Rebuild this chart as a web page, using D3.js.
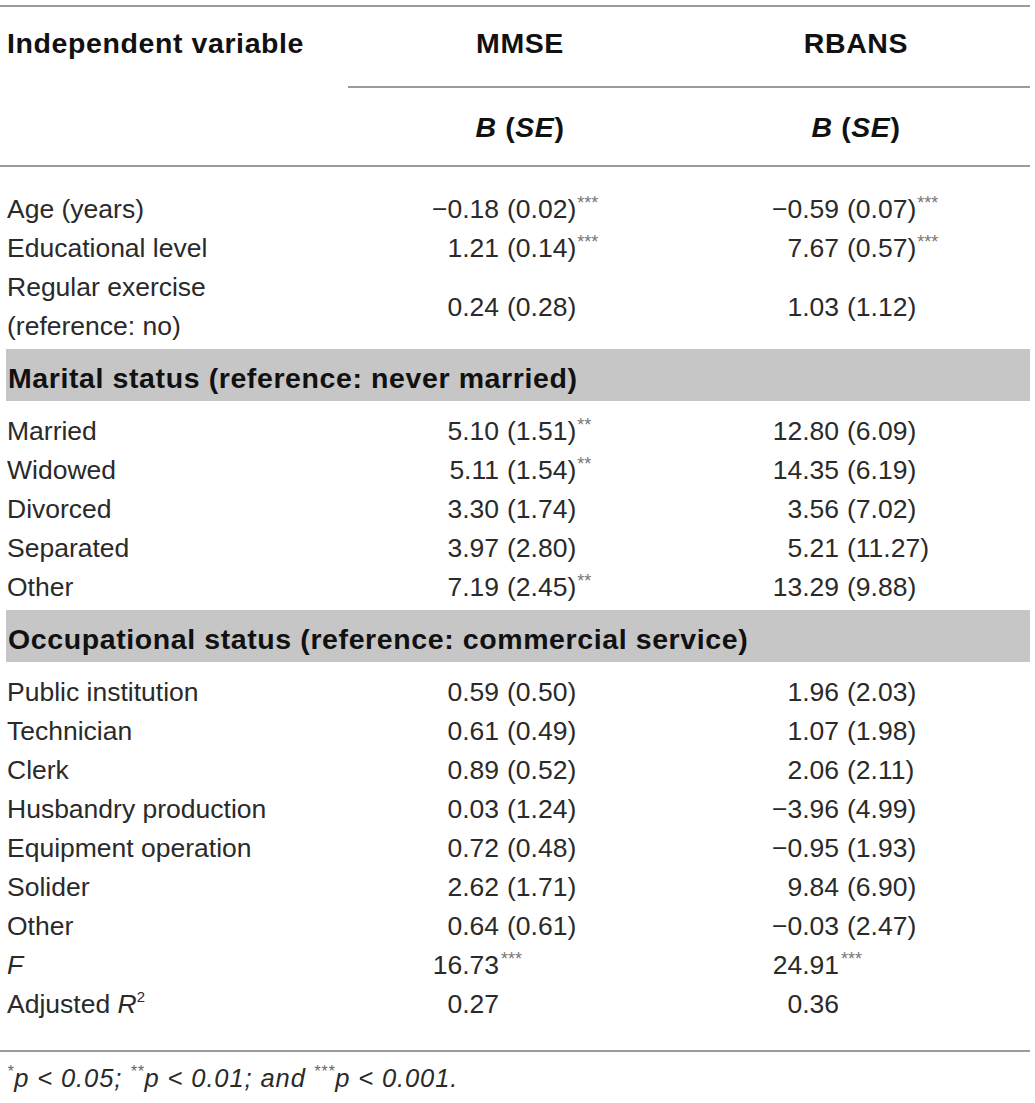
<!DOCTYPE html>
<html>
<head>
<meta charset="utf-8">
<script src="https://cdn.jsdelivr.net/npm/d3@7"></script>
<style>
  html, body { margin: 0; padding: 0; background: #fff; }
  svg { display: block; }
</style>
</head>
<body>
<div id="table"></div>
<script>
// rows of the regression table
const rowLabels = ["Age (years)", "Educational level", "Regular exercise|(reference: no)",
    "Married", "Widowed", "Divorced", "Separated", "Other",
    "Public institution", "Technician", "Clerk", "Husbandry production",
    "Equipment operation", "Solider", "Other", "F", "Adjusted R2"];
const rowGroup = [0, 0, 0, 1, 1, 1, 1, 1, 2, 2, 2, 2, 2, 2, 2, 2, 2];
const groupTitles = ["", "Marital status (reference: never married)",
    "Occupational status (reference: commercial service)"];

const columns = ["MMSE", "RBANS"];
const mmseB = [-0.18, 1.21, 0.24, 5.10, 5.11, 3.30, 3.97, 7.19, 0.59, 0.61, 0.89, 0.03, 0.72, 2.62, 0.64, 16.73, 0.27];
const mmseSE = [0.02, 0.14, 0.28, 1.51, 1.54, 1.74, 2.80, 2.45, 0.50, 0.49, 0.52, 1.24, 0.48, 1.71, 0.61, null, null];
const mmseSig = [3, 3, 0, 2, 2, 0, 0, 2, 0, 0, 0, 0, 0, 0, 0, 3, 0];
const rbansB = [-0.59, 7.67, 1.03, 12.80, 14.35, 3.56, 5.21, 13.29, 1.96, 1.07, 2.06, -3.96, -0.95, 9.84, -0.03, 24.91, 0.36];
const rbansSE = [0.07, 0.57, 1.12, 6.09, 6.19, 7.02, 11.27, 9.88, 2.03, 1.98, 2.11, 4.99, 1.93, 6.90, 2.47, null, null];
const rbansSig = [3, 3, 0, 0, 0, 0, 0, 0, 0, 0, 0, 0, 0, 0, 0, 3, 0];

const footParts = [["*", "p < 0.05; "], ["**", "p < 0.01; and "], ["***", "p < 0.001."]];

const width = 1035, height = 1103;
const fmt = d3.format(".2f");
const bodyFont = "'Liberation Sans', Arial, sans-serif";

const svg = d3.select("#table").append("svg")
    .attr("width", width)
    .attr("height", height)
    .style("font-family", bodyFont);

svg.append("rect").attr("width", width).attr("height", height).attr("fill", "#fff");

// horizontal layout
const colX = d3.scaleOrdinal().domain(columns).range([520, 856]);      // header centres
const colEnd = d3.scaleOrdinal().domain(columns).range([499, 839]);    // right edge of B
const left = 7, right = 1030;

// vertical layout: each row takes slots, a group title takes a wider gap
const bandSlots = 105 / 39;
let slot = 0;
const rows = rowLabels.map((label, i) => {
    if (i > 0) {
        slot += rowLabels[i - 1].split("|").length;
        if (rowGroup[i] !== rowGroup[i - 1]) slot += bandSlots - 1;
    }
    return {
        label: label,
        lines: label.split("|"),
        slot: slot,
        group: rowGroup[i],
        newGroup: i > 0 && rowGroup[i] !== rowGroup[i - 1],
        vals: [
            {col: "MMSE", b: mmseB[i], se: mmseSE[i], sig: mmseSig[i]},
            {col: "RBANS", b: rbansB[i], se: rbansSE[i], sig: rbansSig[i]}
        ]
    };
});
const y = d3.scaleLinear().domain([0, 1]).range([218, 257]);

const rule = (x1, x2, yy) => svg.append("line")
    .attr("x1", x1).attr("x2", x2).attr("y1", yy).attr("y2", yy)
    .attr("stroke", "#9b9b9b").attr("stroke-width", 2);

// header
rule(0, right, 6);
rule(348, right, 87);
rule(0, right, 166);

const head = svg.append("g")
    .attr("font-weight", "bold")
    .attr("font-size", 28.5)
    .attr("letter-spacing", 0.6)
    .attr("fill", "#111");

head.append("text").attr("x", left).attr("y", 53).text("Independent variable");

head.selectAll(".col-head")
    .data(columns)
    .enter().append("text")
    .attr("class", "col-head")
    .attr("x", d => colX(d))
    .attr("y", 53)
    .attr("text-anchor", "middle")
    .text(d => d);

const bse = head.selectAll(".bse")
    .data(columns)
    .enter().append("text")
    .attr("class", "bse")
    .attr("x", d => colX(d))
    .attr("y", 137)
    .attr("text-anchor", "middle");
bse.append("tspan").attr("font-style", "italic").text("B");
bse.append("tspan").text(" (");
bse.append("tspan").attr("font-style", "italic").text("SE");
bse.append("tspan").text(")");

// group title bands
const bands = svg.append("g").selectAll(".band")
    .data(rows.filter(d => d.newGroup))
    .enter().append("g")
    .attr("class", "band")
    .attr("transform", d => `translate(0,${y(d.slot) - 91})`);

bands.append("rect")
    .attr("x", 6)
    .attr("width", right - 6)
    .attr("height", 52)
    .attr("fill", "#c6c6c6");

bands.append("text")
    .attr("x", left + 1)
    .attr("y", 39)
    .attr("font-weight", "bold")
    .attr("font-size", 28.5)
    .attr("letter-spacing", 0.6)
    .attr("fill", "#111")
    .text(d => groupTitles[d.group]);

// body rows
const body = svg.append("g")
    .attr("font-size", 26.5)
    .attr("fill", "#2a2a2a");

const row = body.selectAll(".row")
    .data(rows)
    .enter().append("g")
    .attr("class", "row")
    .attr("transform", d => `translate(0,${y(d.slot)})`);

row.each(function (d) {
    const g = d3.select(this);
    const t = g.append("text").attr("x", left);
    if (d.label === "F") {
        t.attr("font-style", "italic").text("F");
    } else if (d.label === "Adjusted R2") {
        t.append("tspan").text("Adjusted ");
        t.append("tspan").attr("font-style", "italic").text("R");
        t.append("tspan").attr("font-size", 15).attr("dy", -11).text("2");
    } else {
        d.lines.forEach((line, k) => {
            t.append("tspan").attr("x", left).attr("y", y(k) - y(0)).text(line);
        });
    }
});

const mid = d => (y(d.lines.length - 1) - y(0)) / 2;

const cell = row.selectAll(".cell")
    .data(d => d.vals.map(v => Object.assign({dy: mid(d)}, v)))
    .enter().append("g")
    .attr("class", "cell")
    .attr("transform", d => `translate(${colEnd(d.col)},${d.dy})`);

cell.append("text")
    .attr("text-anchor", "end")
    .text(d => fmt(d.b));

const seText = cell.append("text")
    .attr("x", d => d.se == null ? 1 : 8);
seText.append("tspan").text(d => d.se == null ? "" : `(${fmt(d.se)})`);
seText.append("tspan")
    .attr("font-size", 18)
    .attr("dx", 1)
    .attr("dy", -9)
    .attr("fill", "#777")
    .text(d => "*".repeat(d.sig));

rule(0, right, 1051);

// footnote
const foot = svg.append("text")
    .attr("x", left)
    .attr("y", 1087)
    .attr("font-size", 25.5)
    .attr("letter-spacing", 0.9)
    .attr("font-style", "italic")
    .attr("fill", "#2a2a2a");

footParts.forEach(p => {
    foot.append("tspan").attr("font-size", 16).attr("dy", -10).attr("fill", "#666").text(p[0]);
    foot.append("tspan").attr("dy", 10).text(p[1]);
});
</script>
</body>
</html>
